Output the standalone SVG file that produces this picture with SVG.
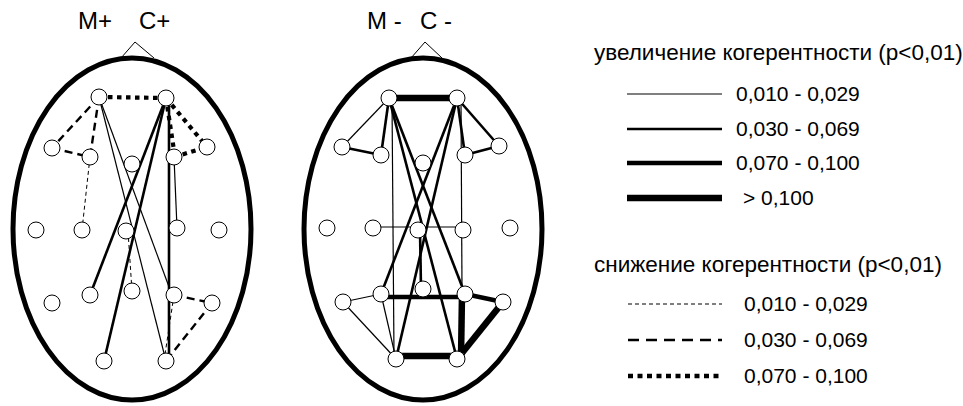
<svg xmlns="http://www.w3.org/2000/svg" width="963" height="406" viewBox="0 0 963 406">
<style>
text{font-family:"Liberation Sans",Arial,sans-serif;fill:#000}
.head{fill:none;stroke:#000;stroke-width:5}
.nose{fill:none;stroke:#000;stroke-width:1}
.nd{fill:#fff;stroke:#000;stroke-width:1}
.c{fill:none;stroke:#000;stroke-linecap:butt}
.w1{stroke-width:1.2}
.w2{stroke-width:2.6}
.w3{stroke-width:4.4}
.w4{stroke-width:6.5}
.d1{stroke-width:1;stroke-dasharray:4 3}
.d2{stroke-width:2.4;stroke-dasharray:8 5}
.d3{stroke-width:4.2;stroke-dasharray:4.5 4.5}
.t{font-size:21px}
.h{font-size:22.5px}
.ttl{font-size:24px}
</style>
<rect width="963" height="406" fill="#fff"/>
<g id="head-left">
<ellipse class="head" cx="132" cy="229" rx="119" ry="171"/>
<polyline class="nose" points="121,58 135,42 154,58"/>
<text class="ttl" y="29"><tspan x="78">M+</tspan><tspan x="139">C+</tspan></text>
</g>
<g id="head-right">
<ellipse class="head" cx="423" cy="229" rx="119" ry="171"/>
<polyline class="nose" points="411,58 425,42 442,58"/>
<text class="ttl" y="29"><tspan x="367">M -</tspan><tspan x="420">C -</tspan></text>
</g>
<g id="connectors">
<!-- left M+ C+ -->
<line class="c d3" x1="99" y1="97" x2="166" y2="98"/>
<line class="c d3" x1="166" y1="98" x2="175" y2="157"/>
<line class="c d3" x1="166" y1="98" x2="207" y2="147"/>
<line class="c d3" x1="174" y1="157" x2="207" y2="147"/>
<line class="c d2" x1="99" y1="97" x2="52" y2="148"/>
<line class="c d2" x1="99" y1="97" x2="90" y2="157"/>
<line class="c d2" x1="52" y1="148" x2="90" y2="157"/>
<line class="c d1" x1="90" y1="157" x2="82" y2="230"/>
<line class="c d1" x1="128" y1="231" x2="132" y2="291"/>
<line class="c d2" x1="174" y1="295" x2="212" y2="303"/>
<line class="c d2" x1="212" y1="303" x2="166" y2="361"/>
<line class="c d1" x1="174" y1="295" x2="164" y2="361"/>
<line class="c w1" x1="99" y1="97" x2="172" y2="295"/>
<line class="c w1" x1="99" y1="97" x2="166" y2="361"/>
<line class="c w2" x1="166" y1="98" x2="90" y2="295"/>
<line class="c w2" x1="166" y1="98" x2="104" y2="361"/>
<line class="c w2" x1="169" y1="100" x2="169" y2="356"/>
<line class="c w1" x1="174" y1="157" x2="177" y2="228"/>
<!-- right M- C- -->
<line class="c w4" x1="389" y1="98" x2="457" y2="98"/>
<line class="c w1" x1="389" y1="98" x2="342" y2="147"/>
<line class="c w2" x1="389" y1="98" x2="381" y2="155"/>
<line class="c w2" x1="342" y1="147" x2="381" y2="155"/>
<line class="c w1" x1="392" y1="100" x2="394" y2="355"/>
<line class="c w1" x1="461" y1="100" x2="462" y2="290"/>
<line class="c w2" x1="457" y1="98" x2="465" y2="155"/>
<line class="c w2" x1="457" y1="98" x2="499" y2="146"/>
<line class="c w2" x1="465" y1="155" x2="499" y2="146"/>
<line class="c w2" x1="389" y1="98" x2="465" y2="294"/>
<line class="c w2" x1="389" y1="98" x2="457" y2="359"/>
<line class="c w2" x1="457" y1="98" x2="381" y2="294"/>
<line class="c w2" x1="457" y1="98" x2="396" y2="359"/>
<line class="c w1" x1="373" y1="227" x2="463" y2="227"/>
<line class="c w2" x1="420" y1="230" x2="421" y2="289"/>
<line class="c w3" x1="381" y1="297" x2="465" y2="297"/>
<line class="c w3" x1="465" y1="294" x2="503" y2="302"/>
<line class="c w4" x1="503" y1="302" x2="458" y2="358"/>
<line class="c w4" x1="462" y1="294" x2="461" y2="358"/>
<line class="c w4" x1="396" y1="356" x2="457" y2="356"/>
<line class="c w1" x1="343" y1="302" x2="381" y2="294"/>
<line class="c w1" x1="343" y1="302" x2="396" y2="359"/>
<line class="c w1" x1="381" y1="294" x2="396" y2="359"/>
</g>
<g id="L_Fp1"><circle class="nd" cx="99" cy="97" r="8"/></g>
<g id="L_Fp2"><circle class="nd" cx="166" cy="98" r="8"/></g>
<g id="L_F7"><circle class="nd" cx="52" cy="148" r="8"/></g>
<g id="L_F3"><circle class="nd" cx="90" cy="157" r="8"/></g>
<g id="L_Fz"><circle class="nd" cx="132" cy="164" r="8"/></g>
<g id="L_F4"><circle class="nd" cx="174" cy="157" r="8"/></g>
<g id="L_F8"><circle class="nd" cx="207" cy="147" r="8"/></g>
<g id="L_T3"><circle class="nd" cx="36" cy="230" r="8"/></g>
<g id="L_C3"><circle class="nd" cx="82" cy="230" r="8"/></g>
<g id="L_Cz"><circle class="nd" cx="126" cy="231" r="8"/></g>
<g id="L_C4"><circle class="nd" cx="177" cy="228" r="8"/></g>
<g id="L_T4"><circle class="nd" cx="219" cy="230" r="8"/></g>
<g id="L_T5"><circle class="nd" cx="52" cy="303" r="8"/></g>
<g id="L_P3"><circle class="nd" cx="90" cy="295" r="8"/></g>
<g id="L_Pz"><circle class="nd" cx="132" cy="291" r="8"/></g>
<g id="L_P4"><circle class="nd" cx="174" cy="295" r="8"/></g>
<g id="L_T6"><circle class="nd" cx="212" cy="303" r="8"/></g>
<g id="L_O1"><circle class="nd" cx="104" cy="361" r="8"/></g>
<g id="L_O2"><circle class="nd" cx="166" cy="361" r="8"/></g>
<g id="R_Fp1"><circle class="nd" cx="389" cy="98" r="8"/></g>
<g id="R_Fp2"><circle class="nd" cx="457" cy="98" r="8"/></g>
<g id="R_F7"><circle class="nd" cx="342" cy="147" r="8"/></g>
<g id="R_F3"><circle class="nd" cx="381" cy="155" r="8"/></g>
<g id="R_Fz"><circle class="nd" cx="423" cy="163" r="8"/></g>
<g id="R_F4"><circle class="nd" cx="465" cy="155" r="8"/></g>
<g id="R_F8"><circle class="nd" cx="499" cy="146" r="8"/></g>
<g id="R_T3"><circle class="nd" cx="327" cy="228" r="8"/></g>
<g id="R_C3"><circle class="nd" cx="373" cy="228" r="8"/></g>
<g id="R_Cz"><circle class="nd" cx="418" cy="230" r="8"/></g>
<g id="R_C4"><circle class="nd" cx="463" cy="230" r="8"/></g>
<g id="R_T4"><circle class="nd" cx="510" cy="228" r="8"/></g>
<g id="R_T5"><circle class="nd" cx="343" cy="302" r="8"/></g>
<g id="R_P3"><circle class="nd" cx="381" cy="294" r="8"/></g>
<g id="R_Pz"><circle class="nd" cx="423" cy="289" r="8"/></g>
<g id="R_P4"><circle class="nd" cx="465" cy="294" r="8"/></g>
<g id="R_T6"><circle class="nd" cx="503" cy="302" r="8"/></g>
<g id="R_O1"><circle class="nd" cx="396" cy="359" r="8"/></g>
<g id="R_O2"><circle class="nd" cx="457" cy="359" r="8"/></g>
<g id="legend">
<text class="h" x="594" y="60">увеличение когерентности (p&lt;0,01)</text>
<line class="c w1" x1="627" y1="94" x2="722" y2="94"/>
<text class="t" x="736" y="101">0,010 - 0,029</text>
<line class="c w2" x1="627" y1="129" x2="722" y2="129"/>
<text class="t" x="736" y="136">0,030 - 0,069</text>
<line class="c w3" x1="627" y1="163" x2="722" y2="163"/>
<text class="t" x="736" y="170">0,070 - 0,100</text>
<line class="c w4" x1="627" y1="198" x2="722" y2="198"/>
<text class="t" x="743" y="205">&gt; 0,100</text>
<text class="h" x="594" y="272">снижение когерентности (p&lt;0,01)</text>
<line class="c d1" x1="628" y1="304" x2="722" y2="304"/>
<text class="t" x="744" y="311">0,010 - 0,029</text>
<line class="c" style="stroke-width:2.6;stroke-dasharray:11 7" x1="628" y1="340" x2="722" y2="340"/>
<text class="t" x="744" y="347">0,030 - 0,069</text>
<line class="c" style="stroke-width:4.4;stroke-dasharray:5 4.5" x1="628" y1="376" x2="722" y2="376"/>
<text class="t" x="744" y="383">0,070 - 0,100</text>
</g>
</svg>
